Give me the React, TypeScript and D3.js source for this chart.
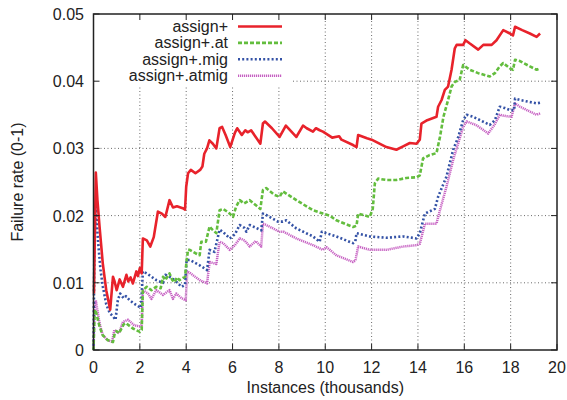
import * as d3 from 'd3';
import React, { useRef, useEffect } from 'react';

// x = instances (thousands), y = failure rate
const assignPlus: [number, number][] = [
  [0.02, 0.0084], [0.1, 0.0264], [0.17, 0.0223], [0.26, 0.0184], [0.4, 0.0129], [0.55, 0.0089],
  [0.72, 0.006], [0.84, 0.0109], [0.91, 0.0102], [1.0, 0.0089], [1.13, 0.0105], [1.27, 0.0094],
  [1.42, 0.0112], [1.5, 0.0102], [1.6, 0.0108], [1.7, 0.0099], [1.85, 0.0117], [1.92, 0.011],
  [2.0, 0.0122], [2.08, 0.0114], [2.13, 0.0166], [2.3, 0.0163], [2.45, 0.0154], [2.6, 0.0168],
  [2.78, 0.0206], [2.95, 0.0203], [3.1, 0.0198], [3.28, 0.0223], [3.43, 0.0212], [3.6, 0.0214],
  [3.85, 0.0211], [3.95, 0.0209], [4.0, 0.0243], [4.08, 0.0263], [4.2, 0.0268], [4.4, 0.0263],
  [4.6, 0.0268], [4.7, 0.0273], [4.78, 0.0292], [4.9, 0.03], [5.0, 0.0312], [5.15, 0.0307],
  [5.3, 0.03], [5.44, 0.033], [5.55, 0.0332], [5.7, 0.032], [5.9, 0.0302], [6.1, 0.0323],
  [6.2, 0.033], [6.4, 0.032], [6.55, 0.0327], [6.65, 0.0324], [6.8, 0.0327], [7.2, 0.0307],
  [7.31, 0.0337], [7.4, 0.034], [7.7, 0.033], [8.03, 0.0317], [8.3, 0.0334], [8.75, 0.0317],
  [9.04, 0.0334], [9.2, 0.033], [9.47, 0.0325], [9.6, 0.033], [9.76, 0.0327], [9.9, 0.0325],
  [10.3, 0.0316], [10.6, 0.0318], [10.7, 0.0313], [11.2, 0.0305], [11.35, 0.0302], [11.42, 0.032],
  [11.8, 0.0315], [12.0, 0.0313], [12.64, 0.0302], [13.07, 0.0298], [13.36, 0.0303], [13.65, 0.0308],
  [13.94, 0.0307], [14.08, 0.0313], [14.15, 0.0337], [14.4, 0.0342], [14.8, 0.0347], [14.87, 0.0362],
  [15.02, 0.0372], [15.16, 0.0387], [15.3, 0.0392], [15.45, 0.0417], [15.59, 0.0449], [15.67, 0.0454],
  [15.95, 0.0454], [16.05, 0.0461], [16.24, 0.0456], [16.6, 0.0447], [16.82, 0.0454], [17.18, 0.0454],
  [17.39, 0.0461], [17.68, 0.0476], [17.97, 0.0471], [18.1, 0.0468], [18.19, 0.0481], [18.5, 0.0476],
  [18.83, 0.0471], [19.12, 0.0466], [19.27, 0.0471],
];

const assignPlusAt: [number, number][] = [
  [0.0, 0.0], [0.05, 0.006], [0.12, 0.0055], [0.26, 0.0035], [0.4, 0.0022], [0.6, 0.0015],
  [0.84, 0.0012], [0.92, 0.0025], [1.0, 0.0028], [1.1, 0.0025], [1.3, 0.0038], [1.4, 0.004],
  [1.7, 0.0032], [2.0, 0.0027], [2.08, 0.003], [2.13, 0.0089], [2.3, 0.0094], [2.5, 0.0089],
  [2.7, 0.0094], [2.9, 0.0092], [3.0, 0.0109], [3.1, 0.0104], [3.28, 0.0114], [3.4, 0.0104],
  [3.5, 0.0101], [3.6, 0.0108], [3.71, 0.0104], [3.95, 0.0109], [4.02, 0.0134], [4.08, 0.0149],
  [4.15, 0.0149], [4.4, 0.0144], [4.58, 0.0141], [4.65, 0.0161], [4.85, 0.0161], [5.01, 0.0184],
  [5.1, 0.018], [5.3, 0.0174], [5.44, 0.0208], [5.6, 0.021], [5.88, 0.0203], [6.02, 0.0198],
  [6.15, 0.0213], [6.31, 0.0223], [6.5, 0.0218], [6.74, 0.0223], [7.2, 0.021], [7.31, 0.0238],
  [7.45, 0.0241], [7.8, 0.0231], [8.03, 0.0228], [8.17, 0.0236], [8.8, 0.0222], [9.47, 0.0208],
  [9.9, 0.0203], [10.19, 0.02], [10.48, 0.0193], [11.2, 0.0183], [11.35, 0.0185], [11.42, 0.0203],
  [11.92, 0.0198], [12.05, 0.021], [12.14, 0.0248], [12.28, 0.0255], [12.64, 0.0253], [13.07, 0.0253],
  [13.5, 0.0256], [13.94, 0.0257], [14.08, 0.026], [14.22, 0.0285], [14.5, 0.029], [14.8, 0.0293],
  [14.95, 0.0317], [15.1, 0.0347], [15.3, 0.0372], [15.45, 0.0392], [15.59, 0.0399], [15.8, 0.0402],
  [15.95, 0.0424], [16.24, 0.0417], [16.6, 0.0412], [17.1, 0.0407], [17.32, 0.0412], [17.53, 0.0422],
  [17.68, 0.0427], [17.97, 0.0419], [18.1, 0.0417], [18.19, 0.0432], [18.4, 0.043], [18.83, 0.0422],
  [19.12, 0.0417], [19.27, 0.0419],
];

const assignPlusMig: [number, number][] = [
  [0.0, 0.0], [0.04, 0.016], [0.1, 0.0213], [0.2, 0.016], [0.3, 0.012], [0.4, 0.0095],
  [0.55, 0.0068], [0.7, 0.0055], [0.84, 0.005], [0.95, 0.0045], [1.05, 0.0074], [1.15, 0.0084],
  [1.3, 0.0077], [1.4, 0.008], [1.56, 0.0074], [1.75, 0.0069], [1.94, 0.0065], [2.05, 0.0063],
  [2.13, 0.0117], [2.3, 0.0114], [2.71, 0.0104], [2.85, 0.0102], [3.0, 0.01], [3.1, 0.0112],
  [3.28, 0.0109], [3.5, 0.0104], [3.8, 0.0094], [3.95, 0.0097], [4.02, 0.0134], [4.15, 0.0134],
  [4.58, 0.0126], [4.9, 0.0119], [5.01, 0.0149], [5.22, 0.0146], [5.44, 0.0179], [5.58, 0.0176],
  [5.88, 0.0166], [6.1, 0.0172], [6.31, 0.0186], [6.5, 0.0182], [6.6, 0.0176], [6.74, 0.0186],
  [7.0, 0.0182], [7.24, 0.0178], [7.31, 0.0203], [7.45, 0.0201], [7.96, 0.0191], [8.17, 0.0191],
  [8.32, 0.0193], [8.75, 0.0181], [9.47, 0.0169], [9.76, 0.0161], [9.85, 0.0176], [10.48, 0.0169],
  [11.2, 0.0159], [11.3, 0.0162], [11.35, 0.0174], [11.92, 0.0169], [12.64, 0.0167], [13.36, 0.0169],
  [13.94, 0.0166], [14.08, 0.0174], [14.3, 0.0203], [14.73, 0.021], [14.87, 0.0228], [15.23, 0.0258],
  [15.52, 0.0298], [15.74, 0.0317], [15.95, 0.0342], [16.1, 0.035], [16.38, 0.0347], [17.1, 0.0335],
  [17.32, 0.0342], [17.53, 0.0362], [17.75, 0.036], [17.97, 0.0357], [18.15, 0.0357], [18.19, 0.0374],
  [18.4, 0.0372], [19.12, 0.0367], [19.27, 0.0368],
];

const assignPlusAtmig: [number, number][] = [
  [0.0, 0.0], [0.04, 0.006], [0.1, 0.0074], [0.26, 0.004], [0.4, 0.0022], [0.6, 0.0015],
  [0.8, 0.0012], [0.9, 0.003], [1.0, 0.0027], [1.1, 0.0025], [1.27, 0.0042], [1.49, 0.0045],
  [1.75, 0.0037], [2.0, 0.0035], [2.08, 0.0037], [2.13, 0.0089], [2.35, 0.0084], [2.5, 0.0076],
  [2.71, 0.0089], [3.0, 0.0082], [3.28, 0.0089], [3.43, 0.0076], [3.57, 0.0084], [3.8, 0.0077],
  [3.98, 0.0074], [4.05, 0.0117], [4.15, 0.0115], [4.58, 0.0104], [4.9, 0.0099], [5.01, 0.0131],
  [5.3, 0.0128], [5.44, 0.0161], [5.6, 0.0159], [5.88, 0.0149], [6.1, 0.0156], [6.31, 0.0166],
  [6.52, 0.0163], [6.74, 0.0154], [7.0, 0.0162], [7.24, 0.0154], [7.31, 0.0188], [7.45, 0.0186],
  [8.03, 0.0176], [8.2, 0.0176], [8.75, 0.0166], [9.47, 0.0156], [9.9, 0.0149], [10.05, 0.0153],
  [10.48, 0.0141], [11.2, 0.0131], [11.3, 0.0133], [11.42, 0.0154], [11.92, 0.0149], [12.64, 0.0149],
  [13.36, 0.0154], [13.94, 0.0156], [14.08, 0.0158], [14.3, 0.0188], [14.8, 0.0188], [14.95, 0.0208],
  [15.23, 0.0243], [15.52, 0.0283], [15.74, 0.0308], [15.95, 0.0332], [16.1, 0.034], [16.5, 0.0335],
  [16.8, 0.0328], [17.03, 0.0322], [17.3, 0.0335], [17.53, 0.035], [17.8, 0.0348], [18.04, 0.0347],
  [18.19, 0.0367], [18.4, 0.0362], [19.12, 0.035], [19.27, 0.0352],
];

const seriesNames = ['assign+', 'assign+.at', 'assign+.mig', 'assign+.atmig'];
const xTicks = [0, 2, 4, 6, 8, 10, 12, 14, 16, 18, 20];
const yTicks = [0, 0.01, 0.02, 0.03, 0.04, 0.05];
const yTickLabels = ['0', '0.01', '0.02', '0.03', '0.04', '0.05'];

const App = () => {
  const svgRef = useRef<SVGSVGElement>(null);

  useEffect(() => {
    const width = 567;
    const height = 400;
    const left = 93.5, right = 557, top = 14, bottom = 350;
    const font = '"Liberation Sans", Arial, Helvetica, sans-serif';

    const svg = d3.select(svgRef.current);
    svg.selectAll('*').remove();
    svg.attr('width', width).attr('height', height);

    const x = d3.scaleLinear().domain([0, 20]).range([left, right]);
    const y = d3.scaleLinear().domain([0, 0.05]).range([bottom, top]);

    // grid (dotted)
    const grid = svg.append('g').attr('stroke', '#444').attr('stroke-width', 0.8)
      .attr('stroke-dasharray', '1,2.5');
    grid.selectAll('line.gx').data(xTicks.slice(1, -1)).enter().append('line')
      .attr('x1', d => x(d)).attr('x2', d => x(d)).attr('y1', top).attr('y2', bottom);
    grid.selectAll('line.gy').data(yTicks.slice(1, -1)).enter().append('line')
      .attr('x1', left).attr('x2', right).attr('y1', d => y(d)).attr('y2', d => y(d));

    // opaque key box hides the grid behind it
    svg.append('rect').attr('x', left + 1).attr('y', top + 1)
      .attr('width', 292 - left).attr('height', 84 - top).attr('fill', '#fff');

    const styles = [
      { color: '#e8222b', dash: null, w: 2.6 },
      { color: '#63bd3e', dash: '4,2', w: 2.6 },
      { color: '#3452a6', dash: '2,2.2', w: 2.6 },
      { color: '#c660c2', dash: '1.2,0.8', w: 2.5 },
    ];
    const data = [assignPlus, assignPlusAt, assignPlusMig, assignPlusAtmig];

    const line = d3.line<[number, number]>().x(d => x(d[0])).y(d => y(d[1]));

    // draw back to front
    [3, 2, 1, 0].forEach(i => {
      svg.append('path')
        .attr('d', line(data[i]))
        .attr('fill', 'none')
        .attr('stroke', styles[i].color)
        .attr('stroke-width', styles[i].w)
        .attr('stroke-linejoin', 'round')
        .attr('stroke-dasharray', styles[i].dash);
    });

    // key
    const key = svg.append('g').attr('font-family', font).attr('font-size', 16).attr('fill', '#222');
    seriesNames.forEach((name, i) => {
      const ky = 26.5 + i * 16.4;
      key.append('text').attr('x', 228).attr('y', ky + 5.5).attr('text-anchor', 'end').text(name);
      key.append('line').attr('x1', 238).attr('x2', 282).attr('y1', ky).attr('y2', ky)
        .attr('stroke', styles[i].color).attr('stroke-width', styles[i].w)
        .attr('stroke-dasharray', styles[i].dash);
    });

    // ticks, inward on all four sides
    const ticks = svg.append('g').attr('stroke', '#222').attr('stroke-width', 1);
    xTicks.forEach(t => {
      ticks.append('line').attr('x1', x(t)).attr('x2', x(t)).attr('y1', bottom).attr('y2', bottom - 6);
      ticks.append('line').attr('x1', x(t)).attr('x2', x(t)).attr('y1', top).attr('y2', top + 6);
    });
    yTicks.forEach(t => {
      ticks.append('line').attr('x1', left).attr('x2', left + 6).attr('y1', y(t)).attr('y2', y(t));
      ticks.append('line').attr('x1', right).attr('x2', right - 6).attr('y1', y(t)).attr('y2', y(t));
    });

    // frame
    svg.append('rect').attr('x', left).attr('y', top).attr('width', right - left).attr('height', bottom - top)
      .attr('fill', 'none').attr('stroke', '#222').attr('stroke-width', 1.5);

    const labels = svg.append('g').attr('font-family', font).attr('font-size', 16).attr('fill', '#222');
    labels.selectAll('text.xl').data(xTicks).enter().append('text')
      .attr('x', d => x(d)).attr('y', 373).attr('text-anchor', 'middle').text(d => String(d));
    labels.selectAll('text.yl').data(yTicks).enter().append('text')
      .attr('x', 84).attr('y', d => y(d) + 6).attr('text-anchor', 'end').text((d, i) => yTickLabels[i]);

    labels.append('text').attr('x', (left + right) / 2).attr('y', 393).attr('text-anchor', 'middle')
      .text('Instances (thousands)');
    labels.append('text').attr('transform', `translate(23, ${(top + bottom) / 2}) rotate(-90)`)
      .attr('text-anchor', 'middle').text('Failure rate (0-1)');
  }, []);

  return (
    <div style={{ position: 'absolute', left: 0, top: 0 }}>
      <svg ref={svgRef}></svg>
    </div>
  );
};

export default App;
